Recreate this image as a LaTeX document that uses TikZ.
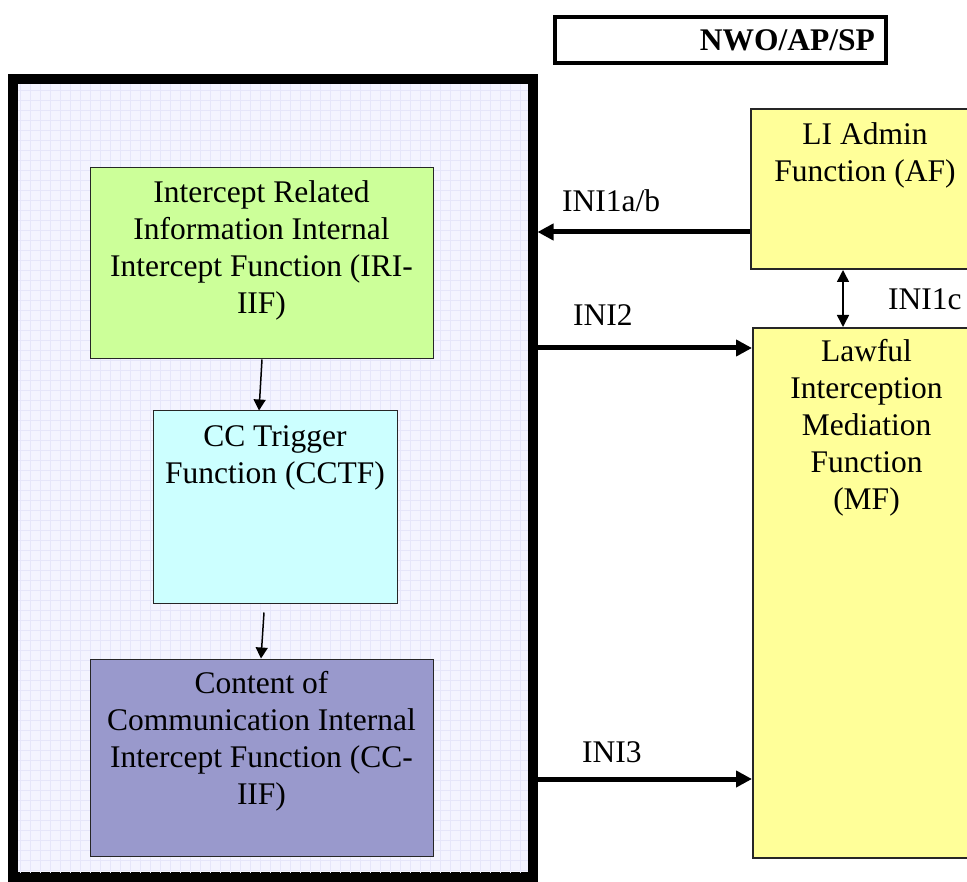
\documentclass[tikz,border=0pt]{standalone}
\usepackage{fontspec}
\setmainfont{Liberation Serif}
\usetikzlibrary{arrows,arrows.meta,positioning}

\definecolor{irigreen}{RGB}{204,255,153}
\definecolor{cctfcyan}{RGB}{204,255,255}
\definecolor{cciifblue}{RGB}{153,153,204}
\definecolor{lfyellow}{RGB}{255,255,153}
\definecolor{netfill}{RGB}{244,244,255}
\definecolor{netgrid}{RGB}{230,230,250}

\begin{document}
\begin{tikzpicture}[x=1pt,y=-1pt,
    funcbox/.style={draw=black!85, line width=1pt, inner sep=0pt},
    lfbox/.style={funcbox, line width=2pt, fill=lfyellow},
    boxtext/.style={inner sep=0pt, align=center, font=\fontsize{31.5}{37}\selectfont},
    lbl/.style={inner sep=0pt, font=\fontsize{31.5}{37}\selectfont},
    bigarrow/.style={line width=5pt, -{Triangle[length=16pt,width=16pt]}},
    thinarrow/.style={line width=1.5pt, -{Triangle[length=11pt,width=12pt]}}]
    \useasboundingbox (0,0) rectangle (967,882);
    \clip (0,0) rectangle (967,882);
    % network element
    \node[draw, line width=10pt, fill=netfill, minimum width=519.5pt, minimum height=798pt] (net) at (272.75,478) {};
    \begin{scope}
        \clip (18,84) rectangle (528,873);
        \draw[netgrid, line width=0.6pt, step=10pt] (18,84) grid (528,873);
    \end{scope}
    \node[draw, line width=4pt, minimum width=331pt, minimum height=46pt] (nwo) at (720.5,40) {};
    \node[inner sep=0pt, font=\fontsize{31.5}{37}\selectfont\bfseries, left=13pt of nwo.east] (nwotext) {NWO/AP/SP};
    % internal functions
    \node[funcbox, fill=irigreen, minimum width=343pt, minimum height=191pt] (iri) at (261.5,263.5) {};
    \node[boxtext, below=13pt of iri.north] (iritext) {Intercept Related\\Information Internal\\Intercept Function (IRI-\\IIF)};
    \node[funcbox, fill=cctfcyan, minimum width=244pt, minimum height=192pt] (cctf) at (275,507) {};
    \node[boxtext, below=15pt of cctf.north] (cctftext) {CC Trigger\\Function (CCTF)};
    \node[funcbox, fill=cciifblue, minimum width=343pt, minimum height=197pt] (cciif) at (261.5,757.5) {};
    \node[boxtext, below=13pt of cciif.north] (cciiftext) {Content of\\Communication Internal\\Intercept Function (CC-\\IIF)};
    % LI functions
    \node[lfbox, minimum width=228pt, minimum height=160pt] (af) at (865,189) {};
    \node[boxtext, below=14pt of af.north] (aftext) {LI Admin\\Function (AF)};
    \node[lfbox, minimum width=227pt, minimum height=530pt] (mf) at (866.5,593) {};
    \node[boxtext, below=12pt of mf.north] (mftext) {Lawful\\Interception\\Mediation\\Function\\(MF)};
    % interfaces
    \coordinate (ini1ab) at (0,232);
    \coordinate (ini2) at (0,348);
    \coordinate (ini3) at (0,779);
    \draw[thinarrow] ([xshift=0.5pt]iri.south) -- ([xshift=-16pt]cctf.north);
    \draw[thinarrow] ([xshift=-11pt,yshift=-9pt]cctf.south) -- ([xshift=-0.5pt]cciif.north);
    \draw[bigarrow] (af.west |- ini1ab) -- (net.east |- ini1ab);
    \draw[bigarrow] (net.east |- ini2) -- (mf.west |- ini2);
    \draw[bigarrow] (net.east |- ini3) -- (mf.west |- ini3);
    \draw[line width=1.5pt, {Triangle[length=12pt,width=12pt]}-{Triangle[length=12pt,width=12pt]}] ([xshift=-22pt]af.south) -- ([xshift=-23.5pt]mf.north);
    \node[lbl, anchor=base west] (ini1ablbl) at (562,212) {INI1a/b};
    \node[lbl, anchor=base west] (ini2lbl) at (573,326) {INI2};
    \node[lbl, anchor=base west] (ini3lbl) at (582,762) {INI3};
    \node[lbl, anchor=base west] (ini1clbl) at (888,310) {INI1c};
\end{tikzpicture}
\end{document}
